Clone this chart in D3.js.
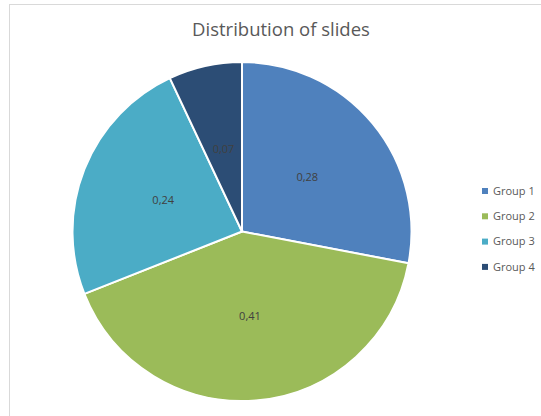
<!DOCTYPE html>
<meta charset="utf-8">
<script src="https://d3js.org/d3.v7.min.js"></script>
<style>
  body { margin: 0; background: #fff; }
  text { font-family: "Open Sans", "Liberation Sans", sans-serif; }
</style>
<div id="chart"></div>
<script>
var groups = ["Group 1", "Group 2", "Group 3", "Group 4"];
var shares = [0.28, 0.41, 0.24, 0.07];
var colors = ["#4f81bd", "#9bbb59", "#4bacc6", "#2c4d75"];

var width = 541, height = 416;
var cx = 242, cy = 231.5, radius = 169.5;

var svg = d3.select("#chart").append("svg")
    .attr("width", width)
    .attr("height", height);

// chart area frame (only top/left visible in the crop)
svg.append("rect")
    .attr("x", 9.5).attr("y", 4.5)
    .attr("width", 560).attr("height", 440)
    .attr("fill", "none")
    .attr("stroke", "#d9d9d9");

svg.append("text")
    .attr("x", 281)
    .attr("y", 36)
    .attr("text-anchor", "middle")
    .attr("fill", "#595959")
    .style("font-size", "18.5px")
    .text("Distribution of slides");

var data = groups.map(function(g, i) { return { name: g, value: shares[i] }; });

var pie = d3.pie().sort(null).value(function(d) { return d.value; });
var arc = d3.arc().innerRadius(0).outerRadius(radius);
var color = d3.scaleOrdinal().domain(groups).range(colors);
var fmt = d3.formatLocale({ decimal: ",", thousands: " ", grouping: [3], currency: ["", ""] }).format(".2f");

var g = svg.append("g")
    .attr("transform", "translate(" + cx + "," + cy + ")");

var slices = pie(data);

g.selectAll("path")
    .data(slices)
    .enter().append("path")
    .attr("d", arc)
    .attr("fill", function(d) { return color(d.data.name); })
    .attr("stroke", "#fff")
    .attr("stroke-width", 2)
    .attr("stroke-linejoin", "round");

g.selectAll(".lbl")
    .data(slices)
    .enter().append("text")
    .attr("class", "lbl")
    .attr("transform", function(d) { return "translate(" + arc.centroid(d) + ")"; })
    .attr("text-anchor", "middle")
    .attr("dy", "0.35em")
    .attr("fill", "#404040")
    .style("font-size", "11px")
    .text(function(d) { return fmt(d.data.value); });

// legend
var legend = svg.append("g")
    .attr("transform", "translate(482,191)");

var item = legend.selectAll("g")
    .data(groups)
    .enter().append("g")
    .attr("transform", function(d, i) { return "translate(0," + (i * 25.3) + ")"; });

item.append("rect")
    .attr("x", 0).attr("y", -3)
    .attr("width", 6).attr("height", 6)
    .attr("fill", function(d) { return color(d); });

item.append("text")
    .attr("x", 11)
    .attr("dy", "0.35em")
    .attr("fill", "#595959")
    .style("font-size", "11px")
    .text(function(d) { return d; });
</script>
